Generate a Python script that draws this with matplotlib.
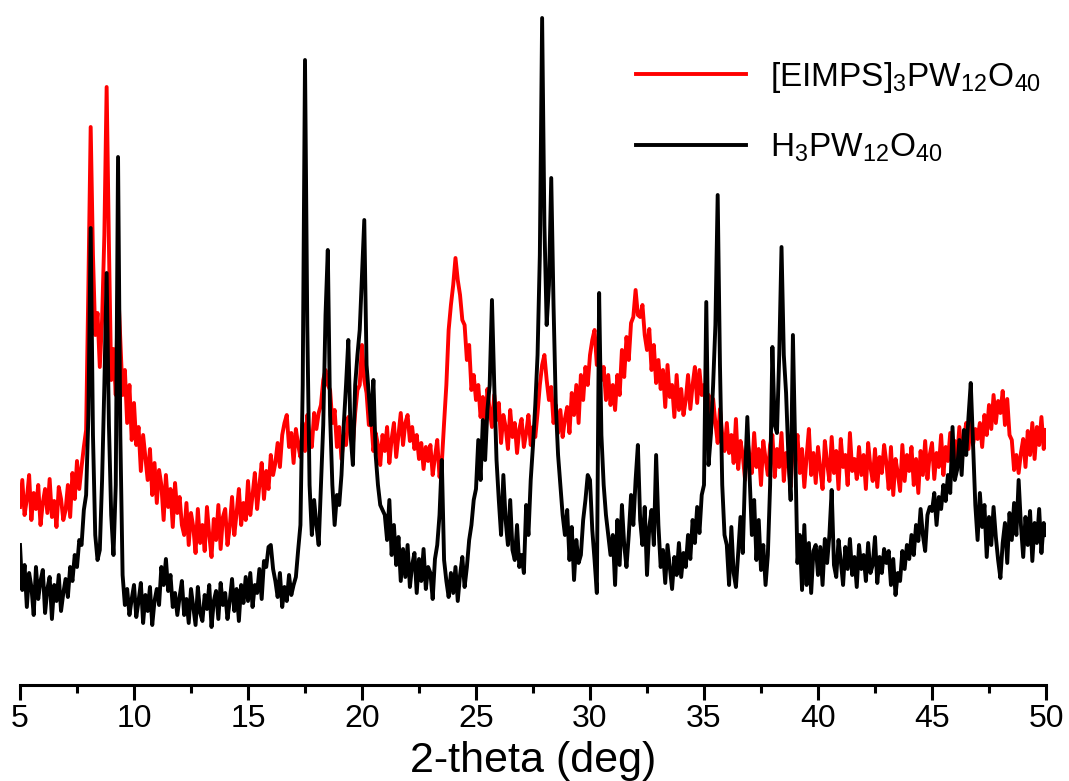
import matplotlib
matplotlib.use("Agg")
import matplotlib.pyplot as plt
import numpy as np

plt.rcParams['font.family'] = ['Liberation Sans', 'DejaVu Sans']
plt.rcParams['mathtext.fontset'] = 'custom'
plt.rcParams['mathtext.rm'] = 'Liberation Sans'

# 2-theta grid, 0.1 deg steps from 5 to 50
two_theta = np.round(np.arange(5.0, 50.01, 0.1), 2)

# intensities (arbitrary units), one row per degree
eimps_counts = [
    178, 205, 170, 186, 210, 165, 192, 176, 200, 160,
    182, 196, 172, 206, 168, 184, 158, 198, 186, 165,
    175, 200, 168, 212, 186, 224, 196, 218, 238, 255,
    400, 558, 430, 350, 372, 318, 365, 450, 598, 440,
    305, 336, 290, 400, 345, 290, 315, 262, 300, 245,
    282, 240, 258, 214, 250, 228, 205, 236, 190, 222,
    182, 215, 200, 165, 210, 178, 196, 158, 202, 172,
    188, 160, 150, 182, 140, 172, 158, 132, 176, 142,
    160, 134, 178, 150, 128, 166, 145, 180, 136, 168,
    176, 140, 158, 188, 150, 172, 196, 160, 182, 165,
    204, 170, 190, 212, 176, 200, 222, 186, 214, 196,
    230, 210, 222, 242, 218, 250, 262, 270, 238, 252,
    222, 256, 240, 228, 262, 234, 270, 246, 238, 272,
    256, 272, 280, 305, 315, 300, 295, 262, 275, 238,
    258, 226, 250, 240, 268, 255, 240, 272, 295, 300,
    340, 305, 292, 260, 266, 234, 252, 240, 220, 250,
    234, 258, 222, 246, 262, 228, 250, 272, 240, 262,
    270, 244, 258, 236, 250, 226, 242, 216, 238, 224,
    240, 210, 228, 245, 208, 222, 262, 300, 355, 380,
    400, 427, 405, 390, 365, 360, 325, 340, 295, 310,
    285, 300, 268, 288, 250, 296, 275, 258, 290, 265,
    282, 242, 270, 258, 236, 275, 248, 262, 232, 256,
    266, 238, 252, 270, 240, 258, 248, 272, 300, 320,
    330, 305, 285, 298, 262, 280, 252, 275, 248, 266,
    278, 252, 292, 270, 300, 262, 310, 285, 318, 300,
    330, 345, 355, 320, 335, 305, 318, 285, 310, 280,
    300, 275, 310, 290, 335, 308, 348, 325, 362, 368,
    395, 370, 368, 380, 350, 335, 356, 315, 340, 302,
    325, 296, 315, 278, 320, 288, 300, 268, 310, 275,
    296, 270, 285, 310, 276, 300, 318, 282, 315, 290,
    300, 270, 290, 252, 286, 262, 242, 276, 250, 234,
    262, 232, 250, 222, 266, 216, 244, 230, 205, 246,
    228, 212, 252, 218, 236, 200, 244, 226, 210, 240,
    250, 208, 236, 218, 252, 204, 232, 222, 198, 240,
    226, 250, 212, 236, 198, 228, 256, 210, 232, 202,
    238, 216, 196, 244, 222, 204, 248, 212, 234, 196,
    246, 218, 230, 200, 252, 214, 226, 206, 238, 210,
    230, 196, 242, 218, 204, 236, 198, 228, 212, 240,
    222, 196, 238, 190, 226, 212, 194, 240, 204, 230,
    214, 238, 200, 226, 192, 234, 210, 244, 206, 230,
    242, 206, 232, 218, 250, 210, 238, 224, 252, 216,
    244, 226, 258, 222, 246, 262, 236, 266, 240, 256,
    246, 262, 238, 270, 250, 280, 256, 290, 262, 284,
    272, 294, 260, 286, 250, 245, 215, 230, 212, 232,
    246, 218, 254, 230, 262, 226, 258, 240, 268, 236,
    255,
]

hpw_counts = [
    140, 95, 120, 78, 112, 98, 70, 118, 86, 104,
    115, 72, 96, 108, 66, 100, 84, 110, 74, 92,
    106, 88, 118, 104, 130, 118, 145, 140, 175, 190,
    270, 457, 250, 150, 125, 135, 205, 300, 412, 260,
    170, 130, 200, 528, 250, 110, 80, 96, 70, 86,
    100, 68, 84, 102, 62, 90, 74, 98, 60, 84,
    96, 80, 118, 100, 126, 94, 110, 78, 92, 70,
    88, 104, 70, 86, 62, 96, 78, 60, 98, 72,
    64, 90, 76, 100, 58, 84, 94, 66, 102, 80,
    92, 66, 84, 106, 74, 96, 64, 100, 82, 108,
    84, 112, 78, 100, 92, 116, 86, 124, 118, 138,
    140, 116, 104, 88, 112, 78, 98, 84, 110, 90,
    100, 108, 135, 160, 300, 625, 360, 200, 150, 185,
    160, 140, 200, 260, 370, 435, 270, 200, 160, 190,
    180, 210, 260, 300, 345, 250, 220, 300, 330, 355,
    410, 465, 320, 290, 260, 305, 230, 200, 180, 175,
    170, 145, 185, 130, 160, 120, 148, 104, 136, 108,
    140, 98, 120, 132, 92, 126, 104, 136, 96, 118,
    112, 86, 126, 140, 170, 225, 125, 104, 88, 112,
    92, 118, 84, 110, 128, 98, 118, 145, 160, 185,
    196, 245, 205, 265, 225, 275, 300, 385, 300, 225,
    185, 150, 210, 165, 140, 185, 135, 125, 160, 118,
    130, 112, 180, 150, 205, 240, 280, 330, 430, 667,
    460, 360, 400, 507, 380, 280, 230, 200, 170, 150,
    175, 125, 158, 105, 145, 122, 130, 165, 185, 210,
    205, 155, 125, 92, 392, 250, 200, 170, 150, 130,
    150, 100, 165, 120, 180, 140, 118, 150, 190, 160,
    205, 240, 165, 140, 178, 110, 158, 175, 140, 230,
    160, 118, 135, 102, 140, 118, 96, 128, 110, 142,
    108, 132, 118, 150, 126, 165, 142, 178, 152, 190,
    200, 383, 220, 250, 300, 360, 490, 320, 200, 150,
    140, 100, 158, 112, 98, 132, 168, 132, 210, 268,
    210, 150, 185, 125, 165, 115, 140, 100, 130, 200,
    338, 260, 252, 330, 438, 330, 292, 230, 185, 350,
    238, 122, 150, 95, 160, 100, 142, 92, 134, 140,
    110, 138, 100, 146, 122, 150, 195, 120, 108, 145,
    124, 100, 138, 116, 146, 110, 128, 98, 140, 116,
    130, 104, 142, 112, 120, 148, 102, 128, 112, 136,
    122, 134, 100, 126, 90, 112, 104, 134, 116, 140,
    126, 150, 130, 160, 144, 176, 150, 134, 170, 178,
    174, 192, 160, 188, 176, 200, 184, 210, 192, 258,
    205, 215, 245, 210, 255, 230, 268, 302, 240, 180,
    145, 192, 158, 180, 128, 168, 140, 178, 148, 125,
    107, 142, 162, 122, 172, 145, 182, 150, 205, 160,
    128, 168, 140, 174, 124, 162, 142, 176, 132, 162,
    150,
]

labels = [r'[EIMPS]$_\mathregular{3}$PW$_\mathregular{12}$O$_\mathregular{40}$',
          r'H$_\mathregular{3}$PW$_\mathregular{12}$O$_\mathregular{40}$']

fig = plt.figure(figsize=(10.69, 7.81), dpi=100)
ax = fig.add_axes([20 / 1069, 96 / 781, 1026 / 1069, 685 / 781])

ax.plot(two_theta, eimps_counts, color='#ff0000', lw=2.8, label=labels[0])
ax.plot(two_theta, hpw_counts, color='black', lw=2.8, label=labels[1])

ax.set_xlim(5, 50)
ax.set_ylim(0, 685)
for side in ['left', 'right', 'top']:
    ax.spines[side].set_visible(False)
ax.spines['bottom'].set_linewidth(2.2)
ax.set_yticks([])
ax.set_xticks(np.arange(5, 51, 5))
ax.set_xticks(np.arange(7.5, 50, 5), minor=True)
ax.tick_params(axis='x', which='major', direction='out', length=11, width=2.2,
               labelsize=23, pad=3)
ax.tick_params(axis='x', which='minor', direction='out', length=6, width=2.2)
ax.set_xlabel('2-theta (deg)', fontsize=31, labelpad=5)

ax.legend(loc='upper left', bbox_to_anchor=(606 / 1069, 1 - 30 / 781),
          bbox_transform=fig.transFigure, frameon=False, fontsize=24,
          handlelength=3.3, handletextpad=0.73, labelspacing=1.1)

fig.savefig('out.png', dpi=100)
